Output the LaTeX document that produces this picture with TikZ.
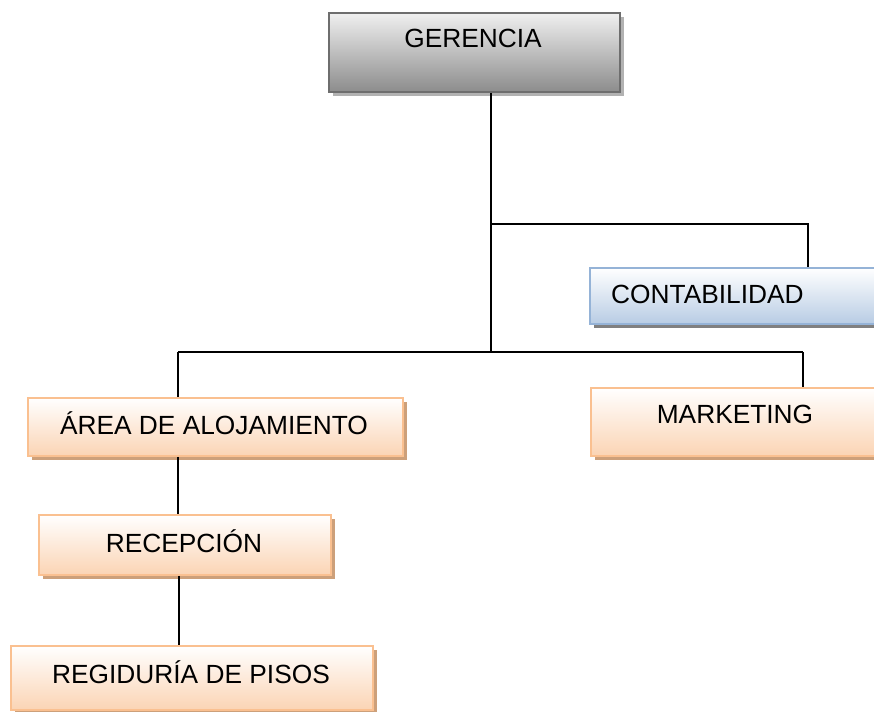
\documentclass[tikz,border=0pt]{standalone}
\usepackage{fontspec}
\setmainfont{Liberation Sans}
\usetikzlibrary{shadows}
\definecolor{orbord}{RGB}{250,192,144}
\definecolor{orbot}{RGB}{251,212,180}
\definecolor{orshad}{RGB}{205,160,122}
\definecolor{blbord}{RGB}{149,179,215}
\definecolor{blbot}{RGB}{184,204,228}
\definecolor{grbord}{RGB}{110,110,110}
\begin{document}
\begin{tikzpicture}[x=1pt,y=-1pt,
  box/.style={rectangle, inner sep=0pt, anchor=north west, line width=1.8pt},
  graybox/.style={box, draw=grbord, top color=white!94!black, bottom color=black!45,
     general shadow={fill=black!30, shadow xshift=4pt, shadow yshift=-4pt}},
  bluebox/.style={box, draw=blbord, top color=white, bottom color=blbot,
     general shadow={fill=black!50, shadow xshift=4pt, shadow yshift=-4pt}},
  orbox/.style={box, draw=orbord, top color=white, bottom color=orbot,
     general shadow={fill=orshad, shadow xshift=4pt, shadow yshift=-4pt}},
  lbl/.style={font=\fontsize{26.3}{30}\selectfont, inner sep=0pt},
  conn/.style={draw=black, line width=1.3pt}]
\useasboundingbox (0,0) rectangle (874,711);
\clip (0,0) rectangle (874,711);
\node[graybox, minimum width=291pt, minimum height=79pt] (ger) at (328,12) {};
\node[bluebox, minimum width=300pt, minimum height=56pt] (con) at (589,267) {};
\node[orbox, minimum width=375pt, minimum height=58pt] (are) at (27,397) {};
\node[orbox, minimum width=300pt, minimum height=68pt] (mar) at (590,387) {};
\node[orbox, minimum width=292pt, minimum height=60pt] (rec) at (38,514) {};
\node[orbox, minimum width=362pt, minimum height=64pt] (reg) at (10,645) {};
\node[lbl] (gert) at (473,38) {GERENCIA};
\node[lbl, anchor=west] (cont) at (611,294) {CONTABILIDAD};
\node[lbl] (aret) at (214,423) {ÁREA DE ALOJAMIENTO};
\node[lbl] (mart) at (735,414) {MARKETING};
\node[lbl] (rect) at (184,541) {RECEPCIÓN};
\node[lbl] (regt) at (191,672) {REGIDURÍA DE PISOS};
\coordinate (j1) at (491,224);
\coordinate (j2) at (491,352);
\coordinate (jl) at (178,352);
\coordinate (jr) at (803,352);
\coordinate (jc) at (808,224);
\draw[conn] (ger.south -| j1) -- (j2);
\draw[conn] (j1) -- (jc) -- (con.north -| jc);
\draw[conn] (jl) -- (jr);
\draw[conn] (jl) -- (are.north -| jl);
\draw[conn] (jr) -- (mar.north -| jr);
\draw[conn] (are.south -| jl) -- (rec.north -| jl);
\draw[conn] ([xshift=1pt]rec.south -| jl) -- ([xshift=1pt]reg.north -| jl);
\end{tikzpicture}
\end{document}
